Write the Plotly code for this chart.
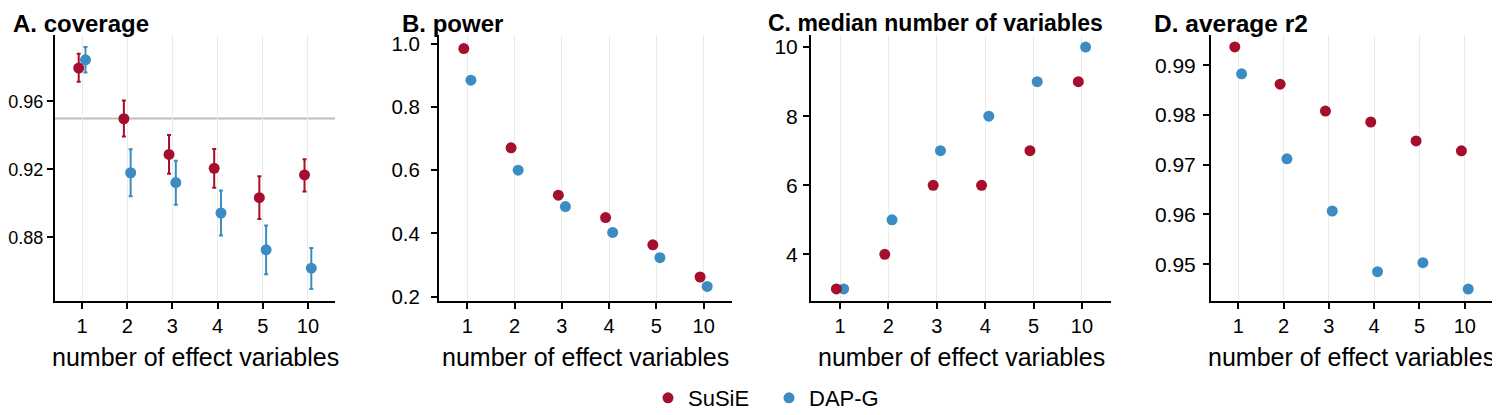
import numpy as np
import plotly.graph_objects as go

# ---------------- data ----------------
categories = ["1", "2", "3", "4", "5", "10"]
methods = ["SuSiE", "DAP-G"]

coverage_susie = [0.9796, 0.9498, 0.9288, 0.9206, 0.9033, 0.9167]
coverage_susie_lo = [0.9716, 0.9394, 0.9174, 0.9092, 0.8908, 0.9069]
coverage_susie_hi = [0.9880, 0.9606, 0.9402, 0.9320, 0.9159, 0.9259]
coverage_dapg = [0.9845, 0.9180, 0.9122, 0.8943, 0.8726, 0.8618]
coverage_dapg_lo = [0.9770, 0.9041, 0.8992, 0.8810, 0.8582, 0.8496]
coverage_dapg_hi = [0.9920, 0.9318, 0.9251, 0.9076, 0.8869, 0.8737]
coverage_target = 0.95

power_susie = [0.985, 0.671, 0.521, 0.450, 0.364, 0.262]
power_dapg = [0.885, 0.600, 0.485, 0.403, 0.323, 0.232]

size_susie = [3, 4, 6, 6, 7, 9]
size_dapg = [3, 5, 7, 8, 9, 10]

r2_susie = [0.9937, 0.9862, 0.9808, 0.9786, 0.9748, 0.9728]
r2_dapg = [0.9883, 0.9712, 0.9607, 0.9485, 0.9503, 0.9450]

panel_titles = ["A. coverage", "B. power", "C. median number of variables", "D. average r2"]
x_title = "number of effect variables"

# ---------------- style ----------------
RED = "#A50F2D"
BLUE = "#3A8CC2"
OFF = 8                       # page body margin
W, H = 1500 - OFF, 415 - OFF
FONT = "Liberation Sans, Arial, sans-serif"


def px_x(v):
    return (v - OFF) / W


def px_y(v):
    return 1 - (v - OFF) / H


pos = np.arange(len(categories))
dodge = 0.075

x_domains = [(55, 335), (439, 732), (811, 1111), (1211, 1492)]
y_dom = [px_y(301), px_y(35)]
title_x = [11, 400, 766, 1152]
title_size = [24, 24, 23, 24.5]
ytick_size = [18, 20.5, 21, 21]
ytick_standoff = [0, 7, 1, 3]
y_ranges = [[0.8425, 0.9991], [0.186, 1.028], [2.65, 10.35], [0.9426, 0.9961]]
y_ticks = [[0.88, 0.92, 0.96], [0.2, 0.4, 0.6, 0.8, 1.0], [4, 6, 8, 10], [0.95, 0.96, 0.97, 0.98, 0.99]]
y_fmt = [".2f", ".1f", "d", ".2f"]

fig = go.Figure()

panels = [
    (coverage_susie, coverage_dapg),
    (power_susie, power_dapg),
    (size_susie, size_dapg),
    (r2_susie, r2_dapg),
]

for i, (ys, yd) in enumerate(panels):
    ax = "" if i == 0 else str(i + 1)
    xref, yref = "x" + ax, "y" + ax
    err_s = err_d = None
    if i == 0:
        err_s = dict(type="data", symmetric=False,
                     array=np.array(coverage_susie_hi) - np.array(coverage_susie),
                     arrayminus=np.array(coverage_susie) - np.array(coverage_susie_lo),
                     color=RED, thickness=2, width=2)
        err_d = dict(type="data", symmetric=False,
                     array=np.array(coverage_dapg_hi) - np.array(coverage_dapg),
                     arrayminus=np.array(coverage_dapg) - np.array(coverage_dapg_lo),
                     color=BLUE, thickness=2, width=2)
    tr_s = go.Scatter(x=pos - dodge, y=ys, mode="markers", name=methods[0],
                      marker=dict(color=RED, size=11), error_y=err_s,
                      xaxis=xref, yaxis=yref, showlegend=(i == 0),
                      legendgroup="s", legendrank=1)
    tr_d = go.Scatter(x=pos + dodge, y=yd, mode="markers", name=methods[1],
                      marker=dict(color=BLUE, size=11), error_y=err_d,
                      xaxis=xref, yaxis=yref, showlegend=(i == 0),
                      legendgroup="d", legendrank=2)
    if i == 2:
        fig.add_trace(tr_d)
        fig.add_trace(tr_s)
    else:
        fig.add_trace(tr_s)
        fig.add_trace(tr_d)

    x0, x1 = x_domains[i]
    fig.update_layout(**{
        "xaxis" + ax: dict(
            domain=[px_x(x0), px_x(x1)], anchor=yref, range=[-0.6, 5.6],
            tickvals=list(pos), ticktext=categories,
            showgrid=True, gridcolor="#EBEBEB", gridwidth=1,
            showline=True, linecolor="black", linewidth=2,
            ticks="outside", ticklen=6, tickwidth=1.5, tickcolor="black",
            tickfont=dict(size=20, color="black", family=FONT),
            zeroline=False, fixedrange=True,
        ),
        "yaxis" + ax: dict(
            domain=y_dom, anchor=xref, range=y_ranges[i],
            tickvals=y_ticks[i], tickformat=y_fmt[i],
            showgrid=False, showline=True, linecolor="black", linewidth=2,
            ticks="outside", ticklen=6, tickwidth=1.5, tickcolor="black",
            tickfont=dict(size=ytick_size[i], color="black", family=FONT),
            ticklabelstandoff=ytick_standoff[i],
            zeroline=False, fixedrange=True,
        ),
    })
    fig.add_annotation(text="<b>" + panel_titles[i] + "</b>", xref="paper", yref="paper",
                       x=px_x(title_x[i]), y=px_y(23), xanchor="left", yanchor="middle",
                       showarrow=False, font=dict(size=title_size[i], color="black", family=FONT))
    fig.add_annotation(text=x_title, xref="paper", yref="paper",
                       x=px_x((x0 + x1) / 2), y=px_y(357), xanchor="center", yanchor="middle",
                       showarrow=False, font=dict(size=25, color="black", family=FONT))

fig.add_shape(type="line", xref="x domain", yref="y", x0=0, x1=1,
              y0=coverage_target, y1=coverage_target,
              line=dict(color="#BEBEBE", width=2), layer="below")

fig.update_layout(
    width=W, height=H,
    margin=dict(l=0, r=0, t=0, b=0, autoexpand=False),
    paper_bgcolor="white", plot_bgcolor="white",
    font=dict(family=FONT, color="black"),
    legend=dict(orientation="h", x=px_x(769), xanchor="center", y=px_y(398), yanchor="middle",
                font=dict(size=22, color="black", family=FONT),
                entrywidth=76, entrywidthmode="pixels", tracegroupgap=0,
                bgcolor="rgba(0,0,0,0)"),
)

fig.write_html("out.html")
